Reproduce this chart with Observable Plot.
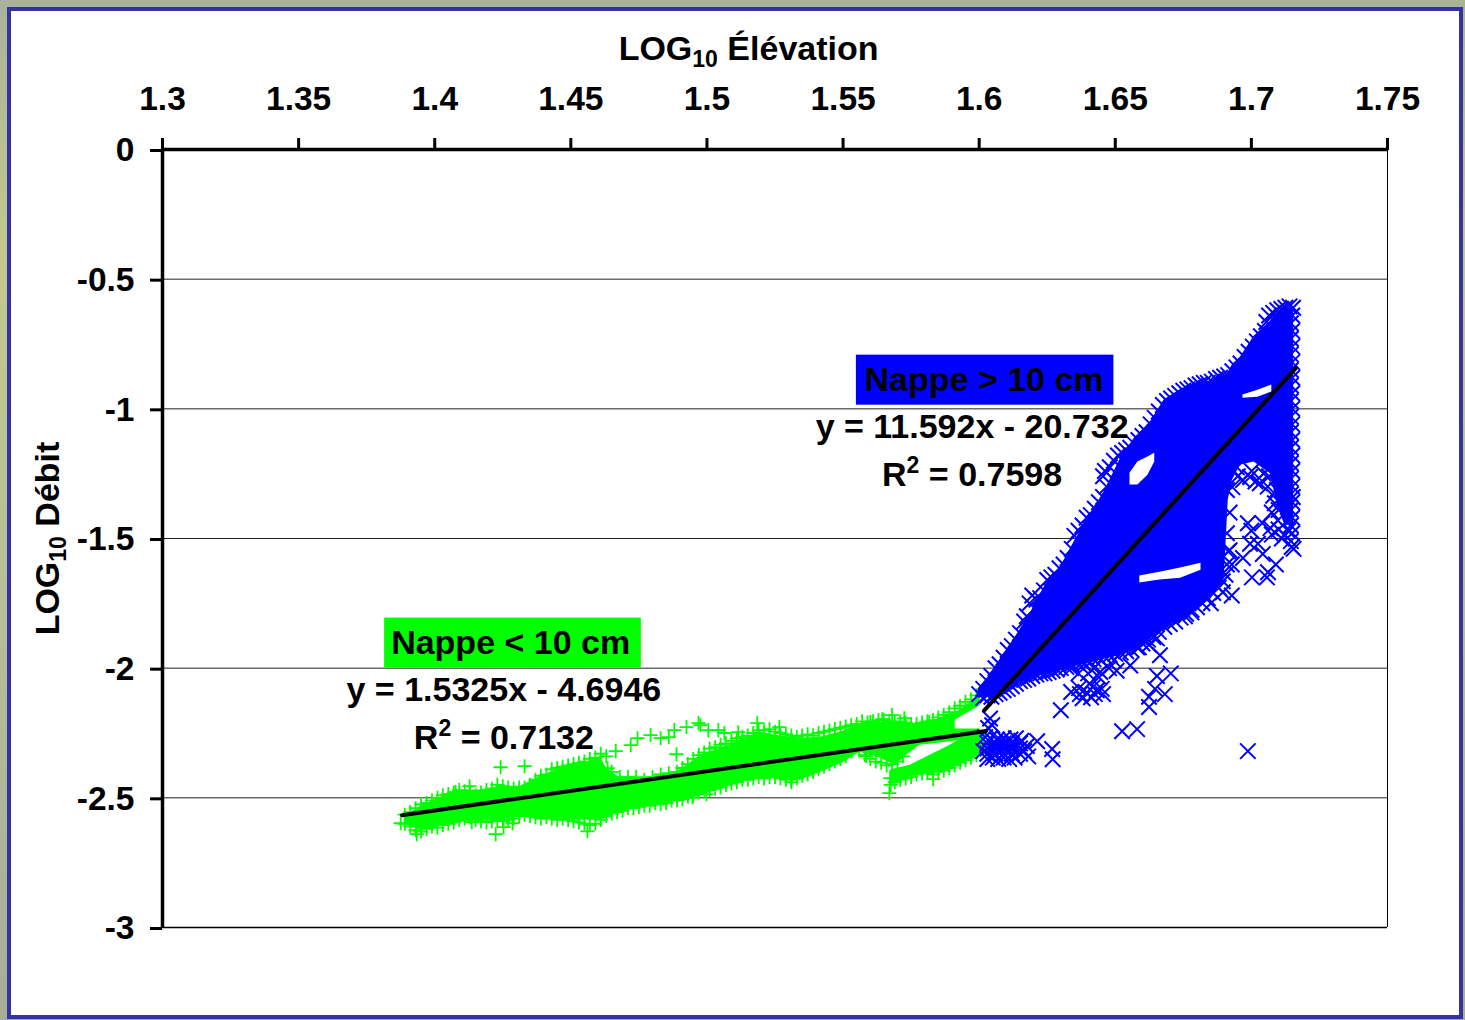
<!DOCTYPE html>
<html><head><meta charset="utf-8">
<script src="https://cdn.jsdelivr.net/npm/d3@7"></script>
<script src="https://cdn.jsdelivr.net/npm/@observablehq/plot@0.6"></script>
<style>
html,body{margin:0;padding:0;width:1465px;height:1020px;overflow:hidden;background:linear-gradient(#a9b39a,#c2c98f 25%,#b4bf9a 60%,#a5ae98)}
#panel{position:absolute;left:7px;top:7px;width:1448px;height:1004px;background:#fff;border:4px solid #3333a3}
#chart{position:absolute;left:0;top:0}
</style></head><body><div id="panel"></div><div id="chart"></div>
<script>
// Axes
const xTicks=[1.3,1.35,1.4,1.45,1.5,1.55,1.6,1.65,1.7,1.75];
const yTicks=[0,-0.5,-1,-1.5,-2,-2.5,-3];
const gridValues=[-0.5,-1,-1.5,-2,-2.5];
// Fitted lines
const blueFitX=[1.6018,1.7163], blueFitY=[-2.164,-0.843];
const greenFitX=[1.388,1.6026], greenFitY=[-2.567,-2.242];
// Saturated cloud envelope (thousands of overlapping points)
const blueCoreX=[1.5996,1.604,1.609,1.613,1.6187,1.624,1.63,1.635,1.641,1.646,1.652,1.657,1.663,1.668,1.674,1.679,1.685,1.69,1.6915,1.693,1.696,1.701,1.707,1.7095,1.712,1.7155];
const blueCoreTop=[-2.08,-2.025,-1.945,-1.885,-1.79,-1.685,-1.607,-1.511,-1.406,-1.318,-1.19,-1.113,-1.05,-0.965,-0.925,-0.905,-0.893,-0.875,-0.862,-0.83,-0.8,-0.72,-0.662,-0.63,-0.61,-0.615];
const blueCoreBottom=[-2.116,-2.11,-2.09,-2.065,-2.04,-2.025,-2.01,-1.995,-1.98,-1.965,-1.95,-1.93,-1.885,-1.845,-1.81,-1.775,-1.735,-1.655,-1.352,-1.275,-1.217,-1.205,-1.25,-1.37,-1.44,-1.46];
const blueHoleA=[[1.6554,-1.248,-1.294],[1.6583,-1.205,-1.294],[1.662,-1.186,-1.256],[1.6645,-1.171,-1.205]];
const blueHoleB=[[1.659,-1.645,-1.672],[1.6664,-1.63,-1.66],[1.674,-1.614,-1.653],[1.6815,-1.595,-1.622]];
const blueHoleC=[[1.6969,-0.947,-0.959],[1.7024,-0.928,-0.955],[1.7075,-0.908,-0.935]];
const blueClusterX=[1.6033,1.6143], blueClusterTop=[-2.278,-2.278], blueClusterBottom=[-2.324,-2.324];
const greenCoreX=[1.3893,1.3948,1.4022,1.4095,1.4169,1.4242,1.4315,1.4389,1.4462,1.4536,1.4609,1.4631,1.4682,1.4756,1.4829,1.4903,1.4976,1.505,1.5123,1.5196,1.527,1.5343,1.5416,1.549,1.5563,1.5637,1.569,1.5747,1.5783,1.5857,1.593,1.6004];
const greenCoreTop=[-2.571,-2.532,-2.498,-2.47,-2.47,-2.455,-2.455,-2.417,-2.386,-2.37,-2.343,-2.386,-2.424,-2.424,-2.413,-2.393,-2.336,-2.309,-2.278,-2.247,-2.262,-2.27,-2.266,-2.247,-2.216,-2.208,-2.212,-2.216,-2.216,-2.193,-2.162,-2.104];
const greenCoreBottom=[-2.602,-2.625,-2.609,-2.594,-2.586,-2.586,-2.571,-2.579,-2.579,-2.586,-2.586,-2.579,-2.555,-2.532,-2.528,-2.509,-2.49,-2.463,-2.44,-2.424,-2.424,-2.432,-2.401,-2.37,-2.324,-2.347,-2.374,-2.324,-2.297,-2.289,-2.278,-2.258];
const greenStrandX=[1.5673,1.5747,1.582,1.5894,1.5967,1.6022];
const greenStrandTop=[-2.393,-2.374,-2.336,-2.297,-2.25,-2.239];
const greenStrandBottom=[-2.451,-2.42,-2.405,-2.39,-2.355,-2.32];
const greenHole=[[1.5912,-2.2,-2.235],[1.6012,-2.14,-2.235]];
// Individually readable points
const blueSparse=[[1.6987,-2.32],[1.63,-2.162],[1.6525,-2.243],[1.658,-2.235],[1.6213,-2.282],[1.6268,-2.312],[1.627,-2.351],
[1.6987,-1.441],[1.6995,-1.52],[1.6969,-1.575],[1.7002,-1.65],[1.7061,-1.63],[1.709,-1.6],[1.7042,-1.56],[1.7148,-1.533],[1.7075,-1.485],[1.7112,-1.5],[1.7024,-1.52],[1.7057,-1.65],[1.7155,-1.54],
[1.692,-1.545],[1.6928,-1.6],[1.6928,-1.72],[1.6895,-1.707],[1.6851,-1.75],[1.678,-1.785],[1.6756,-1.8],[1.6704,-1.77],[1.6653,-1.885],[1.6624,-1.91],[1.6587,-1.92],[1.6664,-1.95],[1.6704,-2.02],[1.6653,-2.03],[1.6646,-2.08],[1.6682,-2.1],[1.6624,-2.11],[1.6624,-2.15],
[1.6338,-2.0],[1.6385,-1.985],[1.6422,-2.0],[1.6477,-2.0],[1.644,-2.035],[1.6338,-2.092],[1.638,-2.116],[1.6418,-2.073],[1.6455,-2.1],[1.6411,-2.112],[1.6367,-2.077],[1.6495,-1.97],[1.6555,-1.99],[1.6505,-2.01],[1.6432,-2.085],[1.6395,-2.095],[1.6425,-2.1],[1.645,-2.08],[1.637,-2.1],[1.6405,-2.06],[1.64,-2.02],[1.6445,-2.015],[1.6365,-2.02],
[1.6022,-2.266],[1.6033,-2.231],[1.6048,-2.22],[1.604,-2.194],
[1.603,-2.29],[1.606,-2.29],[1.609,-2.29],[1.612,-2.29],[1.615,-2.29],[1.603,-2.31],[1.606,-2.31],[1.609,-2.31],[1.612,-2.31],[1.615,-2.31],[1.603,-2.33],[1.606,-2.33],[1.609,-2.33],[1.612,-2.33],[1.615,-2.33],[1.6015,-2.32],[1.603,-2.35],[1.607,-2.35],[1.611,-2.35],[1.6175,-2.3],[1.604,-2.27],[1.609,-2.27],[1.6135,-2.27],[1.6165,-2.32],[1.618,-2.34],[1.605,-2.345],[1.609,-2.345],[1.613,-2.345],[1.6065,-2.275],[1.6115,-2.275],[1.6155,-2.28],
[1.6885,-1.287],[1.691,-1.313],[1.693,-1.302],[1.6969,-1.275],[1.6947,-1.225],[1.6995,-1.263],[1.7031,-1.287],[1.7094,-1.313],[1.7116,-1.275],[1.7086,-1.364],[1.7134,-1.379],[1.7152,-1.34],[1.7097,-1.43],[1.7123,-1.487],[1.7065,-1.26],[1.7001,-1.24],[1.695,-1.26],[1.7015,-1.28],[1.7045,-1.25],[1.706,-1.3],[1.708,-1.335],[1.71,-1.39],[1.7075,-1.4],[1.704,-1.44],[1.707,-1.46],[1.71,-1.465],[1.7135,-1.47],[1.7,-1.47]];
const blueTopEdge=[[1.6015,-2.08],[1.603,-2.05],[1.6045,-2.03],[1.606,-2.0],[1.6075,-1.985],[1.609,-1.96],[1.6105,-1.93],[1.612,-1.915],[1.6135,-1.89],[1.615,-1.865],[1.6165,-1.82],[1.6175,-1.8],[1.6185,-1.75],[1.6195,-1.72],[1.621,-1.735],[1.6224,-1.73],[1.6238,-1.7],[1.625,-1.66],[1.6265,-1.65],[1.628,-1.64],[1.6295,-1.615],[1.631,-1.6],[1.6325,-1.575],[1.634,-1.54],[1.635,-1.49],[1.6365,-1.47],[1.638,-1.45],[1.6395,-1.42],[1.641,-1.41],[1.6425,-1.385],[1.644,-1.36],[1.6455,-1.34],[1.6468,-1.3],[1.6455,-1.26],[1.6462,-1.24],[1.648,-1.225],[1.6495,-1.2],[1.651,-1.18],[1.6525,-1.17],[1.654,-1.16],[1.6555,-1.15],[1.657,-1.135],[1.6585,-1.12],[1.66,-1.105],[1.6615,-1.09],[1.663,-1.06],[1.6645,-1.035],[1.666,-1.01],[1.6675,-0.985],[1.669,-0.97],[1.6705,-0.96],[1.672,-0.95],[1.6735,-0.94],[1.675,-0.93],[1.6765,-0.925],[1.678,-0.92],[1.6795,-0.91],[1.681,-0.905],[1.6825,-0.9],[1.684,-0.9],[1.6855,-0.895],[1.687,-0.885],[1.6885,-0.88],[1.69,-0.875],[1.6915,-0.87],[1.693,-0.855],[1.6945,-0.84],[1.696,-0.825],[1.6975,-0.8],[1.699,-0.78],[1.7005,-0.76],[1.702,-0.74],[1.7035,-0.72],[1.705,-0.7],[1.7055,-0.665],[1.7065,-0.64],[1.708,-0.63],[1.7095,-0.62],[1.711,-0.615],[1.7125,-0.61],[1.714,-0.605],[1.7153,-0.61]];
const blueRightEdge=[[1.715,-0.64],[1.7145,-0.67],[1.715,-0.7],[1.7145,-0.73],[1.715,-0.76],[1.7145,-0.79],[1.715,-0.82],[1.7145,-0.85],[1.715,-0.88],[1.7145,-0.91],[1.715,-0.94],[1.7145,-0.97],[1.715,-1.0],[1.7145,-1.03],[1.715,-1.06],[1.7145,-1.09],[1.715,-1.12],[1.7145,-1.15],[1.715,-1.18],[1.7145,-1.21],[1.715,-1.24],[1.7145,-1.27],[1.715,-1.3],[1.7145,-1.33],[1.715,-1.36],[1.7145,-1.39],[1.715,-1.42],[1.7145,-1.45],[1.715,-1.48],[1.7145,-1.51]];
const blueBottomEdge=[[1.6,-2.1],[1.6015,-2.115],[1.603,-2.105],[1.6045,-2.11],[1.606,-2.1],[1.6075,-2.095],[1.609,-2.085],[1.6105,-2.08],[1.612,-2.07],[1.6135,-2.06],[1.615,-2.05],[1.6165,-2.045],[1.618,-2.04],[1.6195,-2.03],[1.621,-2.025],[1.6225,-2.02],[1.624,-2.02],[1.6255,-2.015],[1.627,-2.01],[1.6285,-2.005],[1.63,-2.0],[1.632,-1.995],[1.634,-1.985],[1.636,-1.98],[1.638,-1.975],[1.64,-1.97],[1.642,-1.965],[1.644,-1.96],[1.646,-1.955],[1.648,-1.95],[1.65,-1.945],[1.652,-1.94],[1.654,-1.935],[1.656,-1.93],[1.658,-1.92],[1.66,-1.905],[1.662,-1.89],[1.664,-1.88],[1.666,-1.86],[1.668,-1.84],[1.67,-1.83],[1.672,-1.82],[1.674,-1.805],[1.676,-1.79],[1.678,-1.775],[1.68,-1.765],[1.682,-1.75],[1.684,-1.73],[1.686,-1.71],[1.688,-1.69],[1.6895,-1.665],[1.6905,-1.64],[1.691,-1.6],[1.6915,-1.55],[1.691,-1.48],[1.692,-1.4]];
const greenSparse=[[1.4242,-2.382],[1.433,-2.378],[1.4128,-2.455],[1.4077,-2.478],[1.4665,-2.32],[1.472,-2.297],[1.4745,-2.27],[1.4793,-2.258],[1.483,-2.27],[1.486,-2.266],[1.488,-2.239],[1.4925,-2.227],[1.4969,-2.212],[1.4976,-2.22],[1.5005,-2.239],[1.5042,-2.239],[1.5064,-2.25],[1.5115,-2.247],[1.4888,-2.332],[1.4635,-2.386],[1.5185,-2.212],[1.5266,-2.227],[1.56,-2.208],[1.5644,-2.197],[1.568,-2.181],[1.5725,-2.193],[1.5817,-2.208],
[1.4224,-2.64],[1.4253,-2.613],[1.4286,-2.598],[1.4561,-2.629],[1.3875,-2.598],[1.3934,-2.64],[1.4136,-2.594],[1.4947,-2.498],[1.4998,-2.486],[1.531,-2.44],[1.567,-2.482],[1.5673,-2.424],[1.5831,-2.428],[1.5585,-2.34]];
const greenTopEdge=[[1.389,-2.565],[1.391,-2.555],[1.393,-2.54],[1.395,-2.525],[1.397,-2.52],[1.399,-2.51],[1.401,-2.5],[1.403,-2.49],[1.405,-2.485],[1.407,-2.48],[1.409,-2.47],[1.411,-2.475],[1.413,-2.48],[1.415,-2.49],[1.417,-2.48],[1.419,-2.47],[1.421,-2.465],[1.423,-2.45],[1.425,-2.455],[1.427,-2.46],[1.429,-2.465],[1.431,-2.46],[1.433,-2.46],[1.435,-2.45],[1.437,-2.43],[1.439,-2.415],[1.441,-2.41],[1.443,-2.39],[1.445,-2.385],[1.447,-2.38],[1.449,-2.375],[1.451,-2.37],[1.453,-2.365],[1.455,-2.36],[1.457,-2.35],[1.459,-2.345],[1.461,-2.33],[1.463,-2.34],[1.465,-2.4],[1.468,-2.42],[1.471,-2.42],[1.474,-2.42],[1.477,-2.43],[1.48,-2.42],[1.483,-2.41],[1.486,-2.405],[1.489,-2.4],[1.491,-2.385],[1.493,-2.37],[1.495,-2.35],[1.497,-2.335],[1.499,-2.325],[1.501,-2.31],[1.503,-2.305],[1.505,-2.295],[1.507,-2.29],[1.509,-2.28],[1.511,-2.27],[1.513,-2.265],[1.515,-2.26],[1.517,-2.25],[1.519,-2.24],[1.521,-2.24],[1.523,-2.235],[1.525,-2.245],[1.527,-2.25],[1.529,-2.255],[1.531,-2.26],[1.533,-2.265],[1.535,-2.26],[1.537,-2.255],[1.539,-2.26],[1.541,-2.25],[1.543,-2.245],[1.545,-2.24],[1.547,-2.235],[1.549,-2.23],[1.551,-2.225],[1.553,-2.22],[1.555,-2.215],[1.557,-2.205],[1.559,-2.21],[1.561,-2.205],[1.563,-2.2],[1.565,-2.2],[1.567,-2.205],[1.569,-2.21],[1.571,-2.205],[1.573,-2.21],[1.575,-2.215],[1.577,-2.215],[1.579,-2.21],[1.581,-2.205],[1.583,-2.2],[1.585,-2.19],[1.587,-2.18],[1.589,-2.17],[1.591,-2.155],[1.593,-2.145],[1.595,-2.13],[1.597,-2.12],[1.599,-2.105]];
const greenBottomEdge=[[1.389,-2.6],[1.391,-2.61],[1.393,-2.625],[1.395,-2.63],[1.397,-2.62],[1.399,-2.61],[1.401,-2.615],[1.403,-2.605],[1.405,-2.6],[1.407,-2.595],[1.409,-2.585],[1.411,-2.58],[1.413,-2.575],[1.415,-2.585],[1.417,-2.59],[1.419,-2.595],[1.421,-2.59],[1.423,-2.585],[1.425,-2.59],[1.427,-2.585],[1.429,-2.58],[1.431,-2.57],[1.433,-2.565],[1.435,-2.57],[1.437,-2.575],[1.439,-2.58],[1.441,-2.575],[1.443,-2.58],[1.445,-2.585],[1.447,-2.58],[1.449,-2.585],[1.451,-2.59],[1.453,-2.595],[1.455,-2.6],[1.457,-2.605],[1.459,-2.6],[1.461,-2.585],[1.463,-2.57],[1.465,-2.56],[1.467,-2.555],[1.469,-2.55],[1.471,-2.54],[1.473,-2.54],[1.475,-2.535],[1.477,-2.53],[1.479,-2.53],[1.481,-2.52],[1.483,-2.525],[1.485,-2.52],[1.487,-2.51],[1.489,-2.51],[1.491,-2.505],[1.493,-2.495],[1.495,-2.49],[1.497,-2.48],[1.499,-2.475],[1.501,-2.47],[1.503,-2.465],[1.505,-2.46],[1.507,-2.45],[1.509,-2.445],[1.511,-2.44],[1.513,-2.43],[1.515,-2.43],[1.517,-2.425],[1.519,-2.42],[1.521,-2.425],[1.523,-2.42],[1.525,-2.42],[1.527,-2.425],[1.529,-2.43],[1.531,-2.43],[1.533,-2.425],[1.535,-2.415],[1.537,-2.41],[1.539,-2.4],[1.541,-2.39],[1.543,-2.38],[1.545,-2.37],[1.547,-2.36],[1.549,-2.35],[1.551,-2.34],[1.553,-2.32],[1.556,-2.32],[1.558,-2.335],[1.56,-2.35],[1.562,-2.36],[1.564,-2.365],[1.566,-2.375],[1.568,-2.37],[1.57,-2.36],[1.572,-2.34],[1.5675,-2.45],[1.569,-2.44],[1.571,-2.43],[1.573,-2.425],[1.575,-2.42],[1.577,-2.41],[1.579,-2.405],[1.581,-2.405],[1.583,-2.41],[1.585,-2.4],[1.587,-2.395],[1.589,-2.385],[1.591,-2.375],[1.593,-2.365],[1.595,-2.355],[1.597,-2.345],[1.599,-2.335]];
// Annotations
const boxX1=[1.5549,1.3816], boxX2=[1.6495,1.4759], boxY1=[-0.793,-1.807], boxY2=[-0.986,-2.0], boxFill=["#0000ff","#00ff00"];
const noteText=["Nappe > 10 cm","y = 11.592x - 20.732","R2 = 0.7598","Nappe < 10 cm","y = 1.5325x - 4.6946","R2 = 0.7132"];
const noteX=[1.6018,1.5974,1.5974,1.4279,1.4254,1.4254];
const noteY=[-0.888,-1.07,-1.255,-1.904,-2.085,-2.27];
const titleX="LOG10 Élévation", titleY="LOG10 Débit";

const hole=(h)=>Plot.areaY(h,{x:d=>d[0],y1:d=>d[1],y2:d=>d[2],fill:"#fff"});
const green=(pts)=>Plot.dot(pts,{x:d=>d[0],y:d=>d[1],symbol:"plus",r:4.6,stroke:"#00ff00",strokeWidth:1.8});
const blue=(pts)=>Plot.dot(pts,{x:d=>d[0],y:d=>d[1],symbol:"times",r:7.1,stroke:"#0000ff",strokeWidth:2});
const plot=Plot.plot({
  width:1465,height:1020,marginLeft:162,marginRight:78,marginTop:149,marginBottom:93,
  style:{background:"transparent",fontFamily:'"Liberation Sans",Arial,sans-serif',fontSize:"33.5px",fontWeight:"bold",color:"#000",overflow:"visible"},
  x:{domain:[1.3,1.75],range:[162,1387]},
  y:{domain:[0,-3],range:[149,927]},
  marks:[
    Plot.ruleY(gridValues,{stroke:"#222",strokeWidth:1}),
    Plot.areaY(greenCoreX,{x:greenCoreX,y1:greenCoreTop,y2:greenCoreBottom,fill:"#00ff00"}),
    Plot.areaY(greenStrandX,{x:greenStrandX,y1:greenStrandTop,y2:greenStrandBottom,fill:"#00ff00"}),
    hole(greenHole),
    green(greenSparse),green(greenTopEdge),green(greenBottomEdge),
    Plot.areaY(blueCoreX,{x:blueCoreX,y1:blueCoreTop,y2:blueCoreBottom,fill:"#0000ff"}),
    Plot.areaY(blueClusterX,{x:blueClusterX,y1:blueClusterTop,y2:blueClusterBottom,fill:"#0000ff"}),
    hole(blueHoleA),hole(blueHoleB),hole(blueHoleC),
    blue(blueSparse),blue(blueTopEdge),blue(blueRightEdge),blue(blueBottomEdge),
    Plot.line(blueFitX,{x:blueFitX,y:blueFitY,stroke:"#000",strokeWidth:4}),
    Plot.line(greenFitX,{x:greenFitX,y:greenFitY,stroke:"#000",strokeWidth:4}),
    Plot.rect(boxFill,{x1:boxX1,x2:boxX2,y1:boxY1,y2:boxY2,fill:boxFill}),
    Plot.text(noteText,{x:noteX,y:noteY,text:d=>d,fill:"#000",fontSize:34,fontWeight:"bold"}),
    Plot.text([titleX],{x:[1.5153],y:[0.387],text:d=>d,fontSize:34,fontWeight:"bold"}),
    Plot.text([titleY],{x:[1.2578],y:[-1.5],text:d=>d,rotate:-90,fontSize:34,fontWeight:"bold"}),
    Plot.ruleX([1.75],{stroke:"#000",strokeWidth:1}),
    Plot.ruleY([-3],{stroke:"#000",strokeWidth:1.5}),
    Plot.ruleX([1.3],{stroke:"#000",strokeWidth:3.5}),
    Plot.ruleY([0],{stroke:"#000",strokeWidth:3.5}),
    Plot.axisX({anchor:"top",ticks:xTicks,tickSize:12,tickPadding:28,strokeWidth:3,fontSize:33.5,tickFormat:d=>String(d),label:null}),
    Plot.axisY({anchor:"left",ticks:yTicks,tickSize:12,tickPadding:16,dy:1,strokeWidth:3,fontSize:33.5,tickFormat:d=>String(d),label:null})
  ]
});
document.getElementById("chart").appendChild(plot);
// sub- and superscripts as real text
d3.select(plot).selectAll("text").each(function(){
  const s=this.textContent, el=d3.select(this);
  let m;
  if((m=s.match(/^LOG10 (.*)$/))){
    el.text(null);
    el.append("tspan").text("LOG");
    el.append("tspan").attr("font-size",23).attr("dy",7).text("10");
    el.append("tspan").attr("dy",-7).text(" "+m[1]);
  } else if((m=s.match(/^R2 (.*)$/))){
    el.text(null);
    el.append("tspan").text("R");
    el.append("tspan").attr("font-size",23).attr("dy",-13).text("2");
    el.append("tspan").attr("dy",13).text(" "+m[1]);
  }
});
</script></body></html>
